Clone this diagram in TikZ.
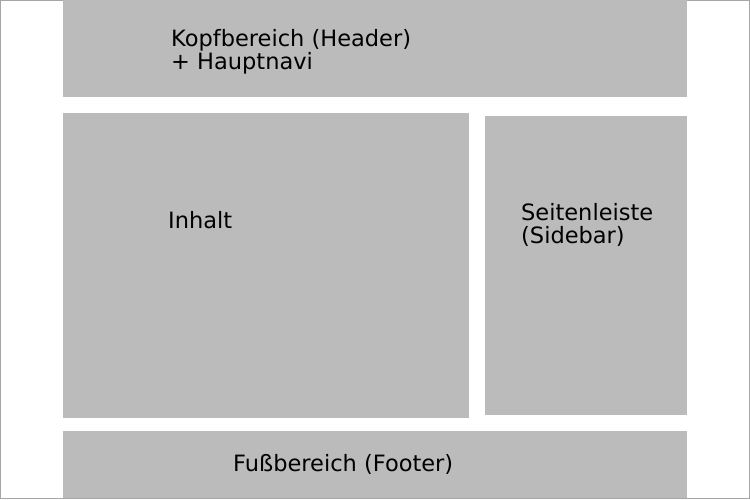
\documentclass[tikz,border=0pt]{standalone}
\usepackage{fontspec}
\setmainfont{DejaVu Sans}
\usepackage{tikz}

\definecolor{boxgray}{HTML}{BBBBBB}
\definecolor{framegray}{HTML}{A6A6A6}

\tikzset{
	area/.style={fill=boxgray},
	areatext/.style={anchor=base west, inner sep=0pt, align=left,
		font=\fontsize{22.5}{23}\selectfont}
}

\begin{document}
\begin{tikzpicture}[x=1pt, y=-1pt]
		\useasboundingbox (0,0) rectangle (750,500);
		% Frame
		\draw[framegray, line width=1pt] (0.5,0.5) rectangle (749,498.5);

		% Header
		\fill[area] (63,0) rectangle (687,97);
		\node[areatext] (header) at (171,69.5) {Kopfbereich (Header)\\+ Hauptnavi};

		% Content
		\fill[area] (63,113) rectangle (469,418);
		\node[areatext] (content) at (168,228) {Inhalt};

		% Sidebar
		\fill[area] (485,116) rectangle (687,414.5);
		\node[areatext] (sidebar) at (521,243) {Seitenleiste\\(Sidebar)};

		% Footer
		\fill[area] (63,431) rectangle (687,498);
		\node[areatext] (footer) at (233,471.5) {Fußbereich (Footer)};
	\end{tikzpicture}
\end{document}
